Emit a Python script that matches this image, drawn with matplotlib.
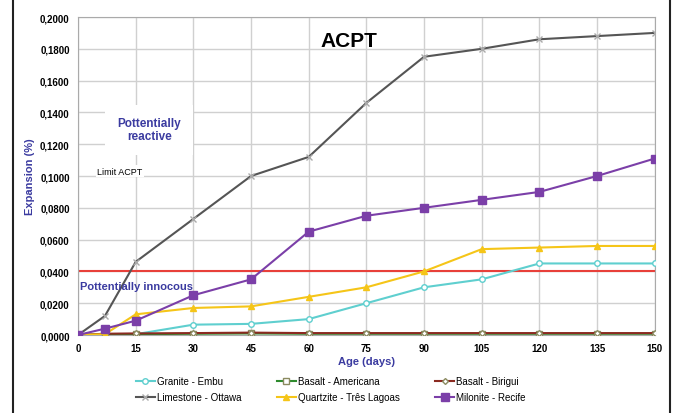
import numpy as np
import matplotlib
matplotlib.use('Agg')
from matplotlib import pyplot as plt
from matplotlib.lines import Line2D
from matplotlib.ticker import FuncFormatter

plt.rcParams['font.family'] = ['Liberation Sans', 'DejaVu Sans']

# data (age in days, expansion in %)
age = [0, 7, 15, 30, 45, 60, 75, 90, 105, 120, 135, 150]
granite_embu = [0, 0, 0.0005, 0.0065, 0.007, 0.010, 0.020, 0.030, 0.035, 0.045, 0.045, 0.045]
basalt_americana = [0, 0.0003, 0.0005, 0.0008, 0.001, 0.0008, 0.0008, 0.0008, 0.0008, 0.0008, 0.0008, 0.0008]
basalt_birigui = [0, 0.0008, 0.001, 0.0012, 0.0015, 0.0012, 0.0012, 0.0012, 0.0012, 0.0012, 0.0012, 0.0012]
limestone_ottawa = [0, 0.012, 0.046, 0.073, 0.100, 0.112, 0.146, 0.175, 0.180, 0.186, 0.188, 0.190]
quartzite_tres_lagoas = [0, 0.0005, 0.013, 0.017, 0.018, 0.024, 0.030, 0.040, 0.054, 0.055, 0.056, 0.056]
milonite_recife = [0, 0.004, 0.009, 0.025, 0.035, 0.065, 0.075, 0.080, 0.085, 0.090, 0.100, 0.111]
limit_acpt = 0.04

xticks = list(range(0, 151, 15))
yticks = [0, 0.02, 0.04, 0.06, 0.08, 0.10, 0.12, 0.14, 0.16, 0.18, 0.20]

blue = '#3b3ba0'

fig = plt.figure(figsize=(6.75, 4.14), dpi=100)
ax = fig.add_axes([0.1156, 0.1884, 0.8544, 0.7681])

ax.axhline(limit_acpt, color='#e8403a', lw=1.5, zorder=2)

series = [
    (granite_embu, 'Granite - Embu', '#5fcfcf', 'o', 'white', 4),
    (basalt_americana, 'Basalt - Americana', '#2e8b2e', 's', 'white', 4),
    (basalt_birigui, 'Basalt - Birigui', '#8b2a20', 'D', 'white', 3),
    (limestone_ottawa, 'Limestone - Ottawa', '#555555', 'x', '#aaaaaa', 4),
    (quartzite_tres_lagoas, 'Quartzite - Três Lagoas', '#f5c518', '^', '#f5c518', 5),
    (milonite_recife, 'Milonite - Recife', '#7b3fa8', 's', '#7b3fa8', 6),
]

handles = {}
for vals, name, col, mk, mfc, ms in series:
    mec = '#aaaaaa' if mk == 'x' else col
    if name.startswith('Basalt'):
        mec = '#8a8a60'
    h, = ax.plot(age, vals, color=col, lw=1.5, marker=mk, ms=ms,
                 mfc=mfc, mec=mec, mew=1, label=name, zorder=3)
    handles[name] = h

ax.set_xlim(0, 150)
ax.set_ylim(0, 0.2)
ax.set_xticks(xticks)
ax.set_yticks(yticks)
ax.yaxis.set_major_formatter(FuncFormatter(lambda v, p: ('%.4f' % v).replace('.', ',')))
ax.grid(True, color='#d0d0d0', lw=1)
ax.set_axisbelow(True)
for s in ax.spines.values():
    s.set_color('#aaaaaa')
ax.tick_params(length=0, labelsize=7, pad=6)
for lab in ax.get_xticklabels() + ax.get_yticklabels():
    lab.set_fontweight('bold')

ax.set_xlabel('Age (days)', color=blue, fontsize=8, fontweight='bold', labelpad=2)
ax.set_ylabel('Expansion (%)', color=blue, fontsize=8, fontweight='bold', labelpad=4)

ax.text(70.5, 0.185, 'ACPT', fontsize=15, fontweight='bold', ha='center', va='center')
ax.text(18.5, 0.129, 'Pottentially\nreactive', color=blue, fontsize=8.5, fontweight='bold',
        ha='center', va='center', linespacing=1.1,
        bbox=dict(facecolor='white', edgecolor='none', pad=9), zorder=4)
ax.text(5, 0.103, 'Limit ACPT', fontsize=6.5, ha='left', va='center',
        bbox=dict(facecolor='white', edgecolor='none', pad=1), zorder=4)
ax.text(0.5, 0.031, 'Pottentially innocous', color=blue, fontsize=8, fontweight='bold',
        ha='left', va='center', zorder=4)

order = ['Granite - Embu', 'Limestone - Ottawa', 'Basalt - Americana',
         'Quartzite - Três Lagoas', 'Basalt - Birigui', 'Milonite - Recife']
fig.legend([handles[n] for n in order], order, loc='center', ncol=3,
           bbox_to_anchor=(0.49, 0.057), frameon=False, fontsize=7,
           handlelength=2.0, columnspacing=3.6, labelspacing=0.6, handletextpad=0.2)

# outer frame lines (left and right)
fig.add_artist(Line2D([0.019, 0.019], [0, 1], color='#222222', lw=1.5, transform=fig.transFigure))
fig.add_artist(Line2D([0.992, 0.992], [0, 1], color='#222222', lw=1.5, transform=fig.transFigure))

fig.savefig('out.png', dpi=100)
